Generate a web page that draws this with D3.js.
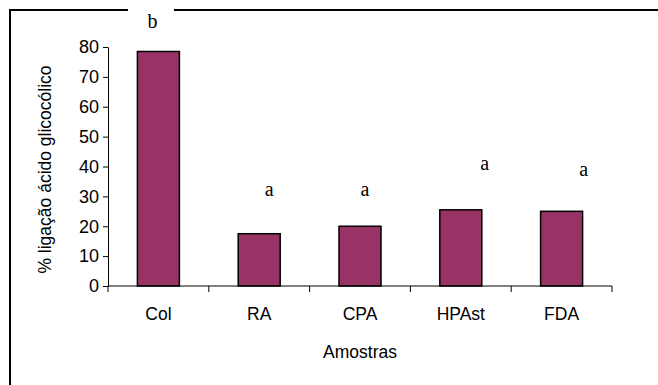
<!DOCTYPE html>
<html><head><meta charset="utf-8">
<script src="https://cdn.jsdelivr.net/npm/d3@7"></script>
<style>body{margin:0;background:#fff}svg{display:block}</style>
</head><body>
<script>
const categories = ["Col", "RA", "CPA", "HPAst", "FDA"];
const values = [78.5, 17.5, 20, 25.5, 25];
const letters = ["b", "a", "a", "a", "a"];
const yTicks = [0, 10, 20, 30, 40, 50, 60, 70, 80];
const yTitle = "% ligação ácido glicocólico";
const xTitle = "Amostras";

const W = 658, H = 385;
const svg = d3.select("body").append("svg").attr("width", W).attr("height", H);
const m = {left: 108, right: 46, top: 47, bottom: 99};
const sans = "Liberation Sans, Arial, sans-serif";

// frame
svg.append("path").attr("d", `M10,385 L10,10 L128,10 M174,10 L658,10`)
  .attr("fill", "none").attr("stroke", "#000").attr("stroke-width", 2);

const xb = d3.scaleBand().domain(categories).range([m.left, W - m.right]);
const y = d3.scaleLinear().domain([0, 80]).range([H - m.bottom, m.top]);

// bars
svg.selectAll("rect.bar").data(categories).enter().append("rect")
  .attr("x", (d) => xb(d) + xb.bandwidth() / 2 - 21)
  .attr("width", 42)
  .attr("y", (d, i) => y(values[i]))
  .attr("height", (d, i) => y(0) - y(values[i]))
  .attr("fill", "#993366").attr("stroke", "#000").attr("stroke-width", 1.5);

// y axis
const ya = svg.append("g").attr("transform", `translate(${m.left},0)`)
  .call(d3.axisLeft(y).tickValues(yTicks).tickSize(5).tickPadding(4).tickSizeOuter(0));
ya.select(".domain").attr("stroke", "#000");
ya.selectAll("text").attr("font-family", sans).attr("font-size", 18).attr("fill", "#000");

// x axis
const xa = svg.append("g").attr("transform", `translate(0,${y(0)})`);
xa.append("line").attr("x1", m.left).attr("x2", W - m.right).attr("stroke", "#000");
const bounds = categories.map(d => xb(d)).concat([W - m.right]);
xa.selectAll("line.t").data(bounds).enter().append("line")
  .attr("x1", d => d).attr("x2", d => d).attr("y1", 0).attr("y2", 6).attr("stroke", "#000");
xa.selectAll("text").data(categories).enter().append("text")
  .attr("x", d => xb(d) + xb.bandwidth() / 2).attr("y", 34)
  .attr("text-anchor", "middle").attr("font-family", sans)
  .attr("font-size", 17.5).text(d => d);

// titles
svg.append("text").attr("transform", `translate(51,${(y(0) + y(80)) / 2 + 3}) rotate(-90)`)
  .attr("text-anchor", "middle").attr("font-family", sans)
  .attr("font-size", 17.5).text(yTitle);
svg.append("text").attr("x", (m.left + W - m.right) / 2).attr("y", 358)
  .attr("text-anchor", "middle").attr("font-family", sans)
  .attr("font-size", 17.5).text(xTitle);

// significance letters
const letterDx = [-6, 10, 5, 24, 22];
const letterY = [28, 196, 196, 170, 176];
svg.selectAll("text.lt").data(categories).enter().append("text")
  .attr("x", (d, i) => xb(d) + xb.bandwidth() / 2 + letterDx[i])
  .attr("y", (d, i) => letterY[i])
  .attr("text-anchor", "middle").attr("font-family", "Liberation Serif, Times New Roman, serif")
  .attr("font-size", 20).text((d, i) => letters[i]);
</script>
</body></html>
